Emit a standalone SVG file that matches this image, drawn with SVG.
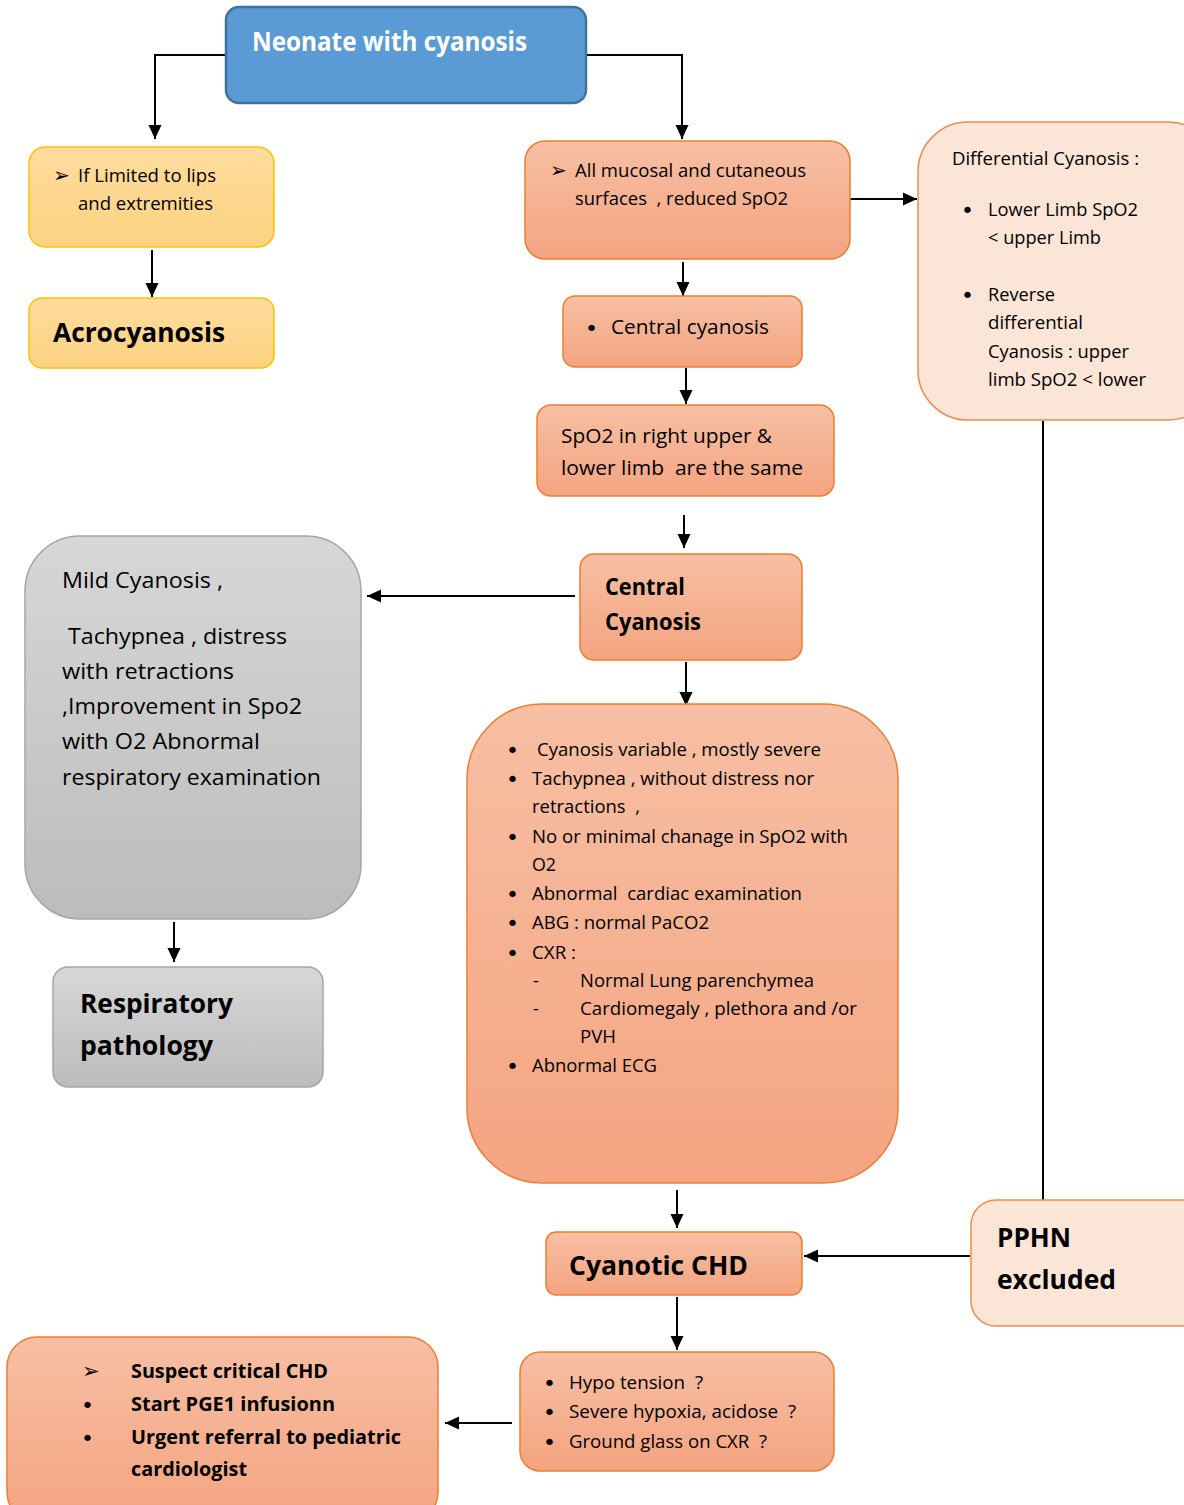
<svg xmlns="http://www.w3.org/2000/svg" width="1184" height="1505" viewBox="0 0 1184 1505">
<defs>
<linearGradient id="gOr" x1="0" y1="0" x2="0" y2="1"><stop offset="0" stop-color="#f7bfa4"/><stop offset="1" stop-color="#f4a480"/></linearGradient>
<linearGradient id="gYe" x1="0" y1="0" x2="0" y2="1"><stop offset="0" stop-color="#fedc9e"/><stop offset="1" stop-color="#fdd381"/></linearGradient>
<linearGradient id="gGr" x1="0" y1="0" x2="0" y2="1"><stop offset="0" stop-color="#d7d7d7"/><stop offset="1" stop-color="#bcbcbc"/></linearGradient>
<marker id="ah" viewBox="0 0 14 14" refX="14" refY="7" markerWidth="14" markerHeight="14" markerUnits="userSpaceOnUse" orient="auto"><path d="M0,0.5 L14,7 L0,13.5 z" fill="#000"/></marker>
</defs>
<style>
text{font-family:"Open Sans","Noto Sans",sans-serif;fill:#000;white-space:pre}
.b{font-weight:bold}
.w{fill:#fff}
.sym{font-family:"DejaVu Sans",sans-serif}
.bu{font-family:"DejaVu Sans",sans-serif;font-size:22px}
.or{fill:url(#gOr);stroke:#ed7d31;stroke-width:1.5}
.lt{fill:#fbe5d6;stroke:#f08a4b;stroke-width:1.5}
.ye{fill:url(#gYe);stroke:#ffc000;stroke-width:1.5}
.gr{fill:url(#gGr);stroke:#a6a6a6;stroke-width:1.5}
.bl{fill:#5b9bd5;stroke:#41719c;stroke-width:2.5}
.c{fill:none;stroke:#000;stroke-width:2}
</style>
<g id="connectors">
<path class="c" d="M226,55 H155 V139" marker-end="url(#ah)"/>
<path class="c" d="M586,55 H682 V139" marker-end="url(#ah)"/>
<path class="c" d="M152,250 V297" marker-end="url(#ah)"/>
<path class="c" d="M850,199 H917" marker-end="url(#ah)"/>
<path class="c" d="M683,262 V296" marker-end="url(#ah)"/>
<path class="c" d="M686,368 V404" marker-end="url(#ah)"/>
<path class="c" d="M684,515 V548" marker-end="url(#ah)"/>
<path class="c" d="M575,596 H367" marker-end="url(#ah)"/>
<path class="c" d="M174,922 V962" marker-end="url(#ah)"/>
<path class="c" d="M686,662 V706" marker-end="url(#ah)"/>
<path class="c" d="M1043,421 V1200"/>
<path class="c" d="M677,1190 V1228" marker-end="url(#ah)"/>
<path class="c" d="M970,1256 H804" marker-end="url(#ah)"/>
<path class="c" d="M677,1297 V1350" marker-end="url(#ah)"/>
<path class="c" d="M512,1423 H445" marker-end="url(#ah)"/>
</g>
<g id="n-neonate">
<rect class="bl" x="226" y="7" width="360" height="96" rx="13"/>
<text class="b w" x="252" y="51" font-size="26" textLength="275" lengthAdjust="spacingAndGlyphs">Neonate with cyanosis</text>
</g>
<g id="n-limited">
<rect class="ye" x="29" y="147" width="245" height="100" rx="16"/>
<text class="sym" x="53" y="182" font-size="20">➢</text>
<text x="78" y="182" font-size="18" textLength="138" lengthAdjust="spacingAndGlyphs">If Limited to lips</text>
<text x="78" y="210" font-size="18" textLength="135" lengthAdjust="spacingAndGlyphs">and extremities</text>
</g>
<g id="n-acro">
<rect class="ye" x="29" y="298" width="245" height="70" rx="13"/>
<text class="b" x="53" y="342" font-size="26" textLength="172" lengthAdjust="spacingAndGlyphs">Acrocyanosis</text>
</g>
<g id="n-mucosal">
<rect class="or" x="525" y="141" width="325" height="118" rx="20"/>
<text class="sym" x="550" y="177" font-size="20">➢</text>
<text x="575" y="177" font-size="18" textLength="231" lengthAdjust="spacingAndGlyphs">All mucosal and cutaneous</text>
<text x="575" y="205" font-size="18" textLength="213" lengthAdjust="spacingAndGlyphs">surfaces  , reduced SpO2</text>
</g>
<g id="n-differential">
<rect class="lt" x="918" y="122" width="300" height="298" rx="50"/>
<text x="952" y="165" font-size="18" textLength="187" lengthAdjust="spacingAndGlyphs">Differential Cyanosis :</text>
<text class="bu" x="961" y="218">•</text>
<text x="988" y="216" font-size="18" textLength="150" lengthAdjust="spacingAndGlyphs">Lower Limb SpO2</text>
<text x="988" y="244" font-size="18" textLength="113" lengthAdjust="spacingAndGlyphs">&lt; upper Limb</text>
<text class="bu" x="961" y="303">•</text>
<text x="988" y="301" font-size="18" textLength="67" lengthAdjust="spacingAndGlyphs">Reverse</text>
<text x="988" y="329" font-size="18" textLength="95" lengthAdjust="spacingAndGlyphs">differential</text>
<text x="988" y="358" font-size="18" textLength="141" lengthAdjust="spacingAndGlyphs">Cyanosis : upper</text>
<text x="988" y="386" font-size="18" textLength="158" lengthAdjust="spacingAndGlyphs">limb SpO2 &lt; lower</text>
</g>
<g id="n-central1">
<rect class="or" x="563" y="296" width="239" height="71" rx="12"/>
<text class="bu" x="585" y="336" font-size="24">•</text>
<text x="611" y="334" font-size="20" textLength="158" lengthAdjust="spacingAndGlyphs">Central cyanosis</text>
</g>
<g id="n-spo2">
<rect class="or" x="537" y="405" width="297" height="91" rx="14"/>
<text x="561" y="443" font-size="20" textLength="211" lengthAdjust="spacingAndGlyphs">SpO2 in right upper &amp;</text>
<text x="561" y="475" font-size="20" textLength="242" lengthAdjust="spacingAndGlyphs">lower limb  are the same</text>
</g>
<g id="n-central2">
<rect class="or" x="580" y="554" width="222" height="106" rx="14"/>
<text class="b" x="605" y="595" font-size="23" textLength="80" lengthAdjust="spacingAndGlyphs">Central</text>
<text class="b" x="605" y="630" font-size="23" textLength="96" lengthAdjust="spacingAndGlyphs">Cyanosis</text>
</g>
<g id="n-mild">
<rect class="gr" x="25" y="536" width="336" height="383" rx="55"/>
<text x="62" y="588" font-size="21" textLength="161" lengthAdjust="spacingAndGlyphs">Mild Cyanosis ,</text>
<text x="62" y="644" font-size="21" textLength="225" lengthAdjust="spacingAndGlyphs"> Tachypnea , distress</text>
<text x="62" y="679" font-size="21" textLength="172" lengthAdjust="spacingAndGlyphs">with retractions</text>
<text x="62" y="714" font-size="21" textLength="240" lengthAdjust="spacingAndGlyphs">,Improvement in Spo2</text>
<text x="62" y="749" font-size="21" textLength="198" lengthAdjust="spacingAndGlyphs">with O2 Abnormal</text>
<text x="62" y="785" font-size="21" textLength="259" lengthAdjust="spacingAndGlyphs">respiratory examination</text>
</g>
<g id="n-resp">
<rect class="gr" x="53" y="967" width="270" height="120" rx="15"/>
<text class="b" x="80" y="1013" font-size="27" textLength="153" lengthAdjust="spacingAndGlyphs">Respiratory</text>
<text class="b" x="80" y="1055" font-size="27" textLength="133" lengthAdjust="spacingAndGlyphs">pathology</text>
</g>
<g id="n-features">
<rect class="or" x="467" y="704" width="431" height="479" rx="75"/>
<g font-size="18">
<text class="bu" x="506" y="758">•</text><text x="537" y="756" textLength="284" lengthAdjust="spacingAndGlyphs">Cyanosis variable , mostly severe</text>
<text class="bu" x="506" y="787">•</text><text x="532" y="785" textLength="282" lengthAdjust="spacingAndGlyphs">Tachypnea , without distress nor</text>
<text x="532" y="813" textLength="108" lengthAdjust="spacingAndGlyphs">retractions  ,</text>
<text class="bu" x="506" y="845">•</text><text x="532" y="843" textLength="316" lengthAdjust="spacingAndGlyphs">No or minimal chanage in SpO2 with</text>
<text x="532" y="871" textLength="24" lengthAdjust="spacingAndGlyphs">O2</text>
<text class="bu" x="506" y="902">•</text><text x="532" y="900" textLength="270" lengthAdjust="spacingAndGlyphs">Abnormal  cardiac examination</text>
<text class="bu" x="506" y="931">•</text><text x="532" y="929" textLength="177" lengthAdjust="spacingAndGlyphs">ABG : normal PaCO2</text>
<text class="bu" x="506" y="961">•</text><text x="532" y="959" textLength="44" lengthAdjust="spacingAndGlyphs">CXR :</text>
<text x="533" y="987">-</text><text x="580" y="987" textLength="234" lengthAdjust="spacingAndGlyphs">Normal Lung parenchymea</text>
<text x="533" y="1015">-</text><text x="580" y="1015" textLength="277" lengthAdjust="spacingAndGlyphs">Cardiomegaly , plethora and /or</text>
<text x="580" y="1043" textLength="36" lengthAdjust="spacingAndGlyphs">PVH</text>
<text class="bu" x="506" y="1074">•</text><text x="532" y="1072" textLength="125" lengthAdjust="spacingAndGlyphs">Abnormal ECG</text>
</g>
</g>
<g id="n-chd">
<rect class="or" x="546" y="1232" width="256" height="63" rx="10"/>
<text class="b" x="569" y="1275" font-size="27" textLength="179" lengthAdjust="spacingAndGlyphs">Cyanotic CHD</text>
</g>
<g id="n-pphn">
<rect class="lt" x="971" y="1200" width="240" height="126" rx="25"/>
<text class="b" x="997" y="1247" font-size="27" textLength="74" lengthAdjust="spacingAndGlyphs">PPHN</text>
<text class="b" x="997" y="1289" font-size="27" textLength="119" lengthAdjust="spacingAndGlyphs">excluded</text>
</g>
<g id="n-hypo">
<rect class="or" x="520" y="1352" width="314" height="119" rx="20"/>
<text class="bu" x="543" y="1391">•</text><text x="569" y="1389" font-size="18" textLength="134" lengthAdjust="spacingAndGlyphs">Hypo tension  ?</text>
<text class="bu" x="543" y="1420">•</text><text x="569" y="1418" font-size="18" textLength="227" lengthAdjust="spacingAndGlyphs">Severe hypoxia, acidose  ?</text>
<text class="bu" x="543" y="1450">•</text><text x="569" y="1448" font-size="18" textLength="198" lengthAdjust="spacingAndGlyphs">Ground glass on CXR  ?</text>
</g>
<g id="n-suspect">
<rect class="or" x="7" y="1337" width="431" height="185" rx="30"/>
<text class="sym" x="82" y="1378" font-size="21">➢</text><text class="b" x="131" y="1378" font-size="20" textLength="197" lengthAdjust="spacingAndGlyphs">Suspect critical CHD</text>
<text class="bu" x="81" y="1413" font-size="24">•</text><text class="b" x="131" y="1411" font-size="20" textLength="204" lengthAdjust="spacingAndGlyphs">Start PGE1 infusionn</text>
<text class="bu" x="81" y="1446" font-size="24">•</text><text class="b" x="131" y="1444" font-size="20" textLength="270" lengthAdjust="spacingAndGlyphs">Urgent referral to pediatric</text>
<text class="b" x="131" y="1476" font-size="20" textLength="116" lengthAdjust="spacingAndGlyphs">cardiologist</text>
</g>
</svg>
